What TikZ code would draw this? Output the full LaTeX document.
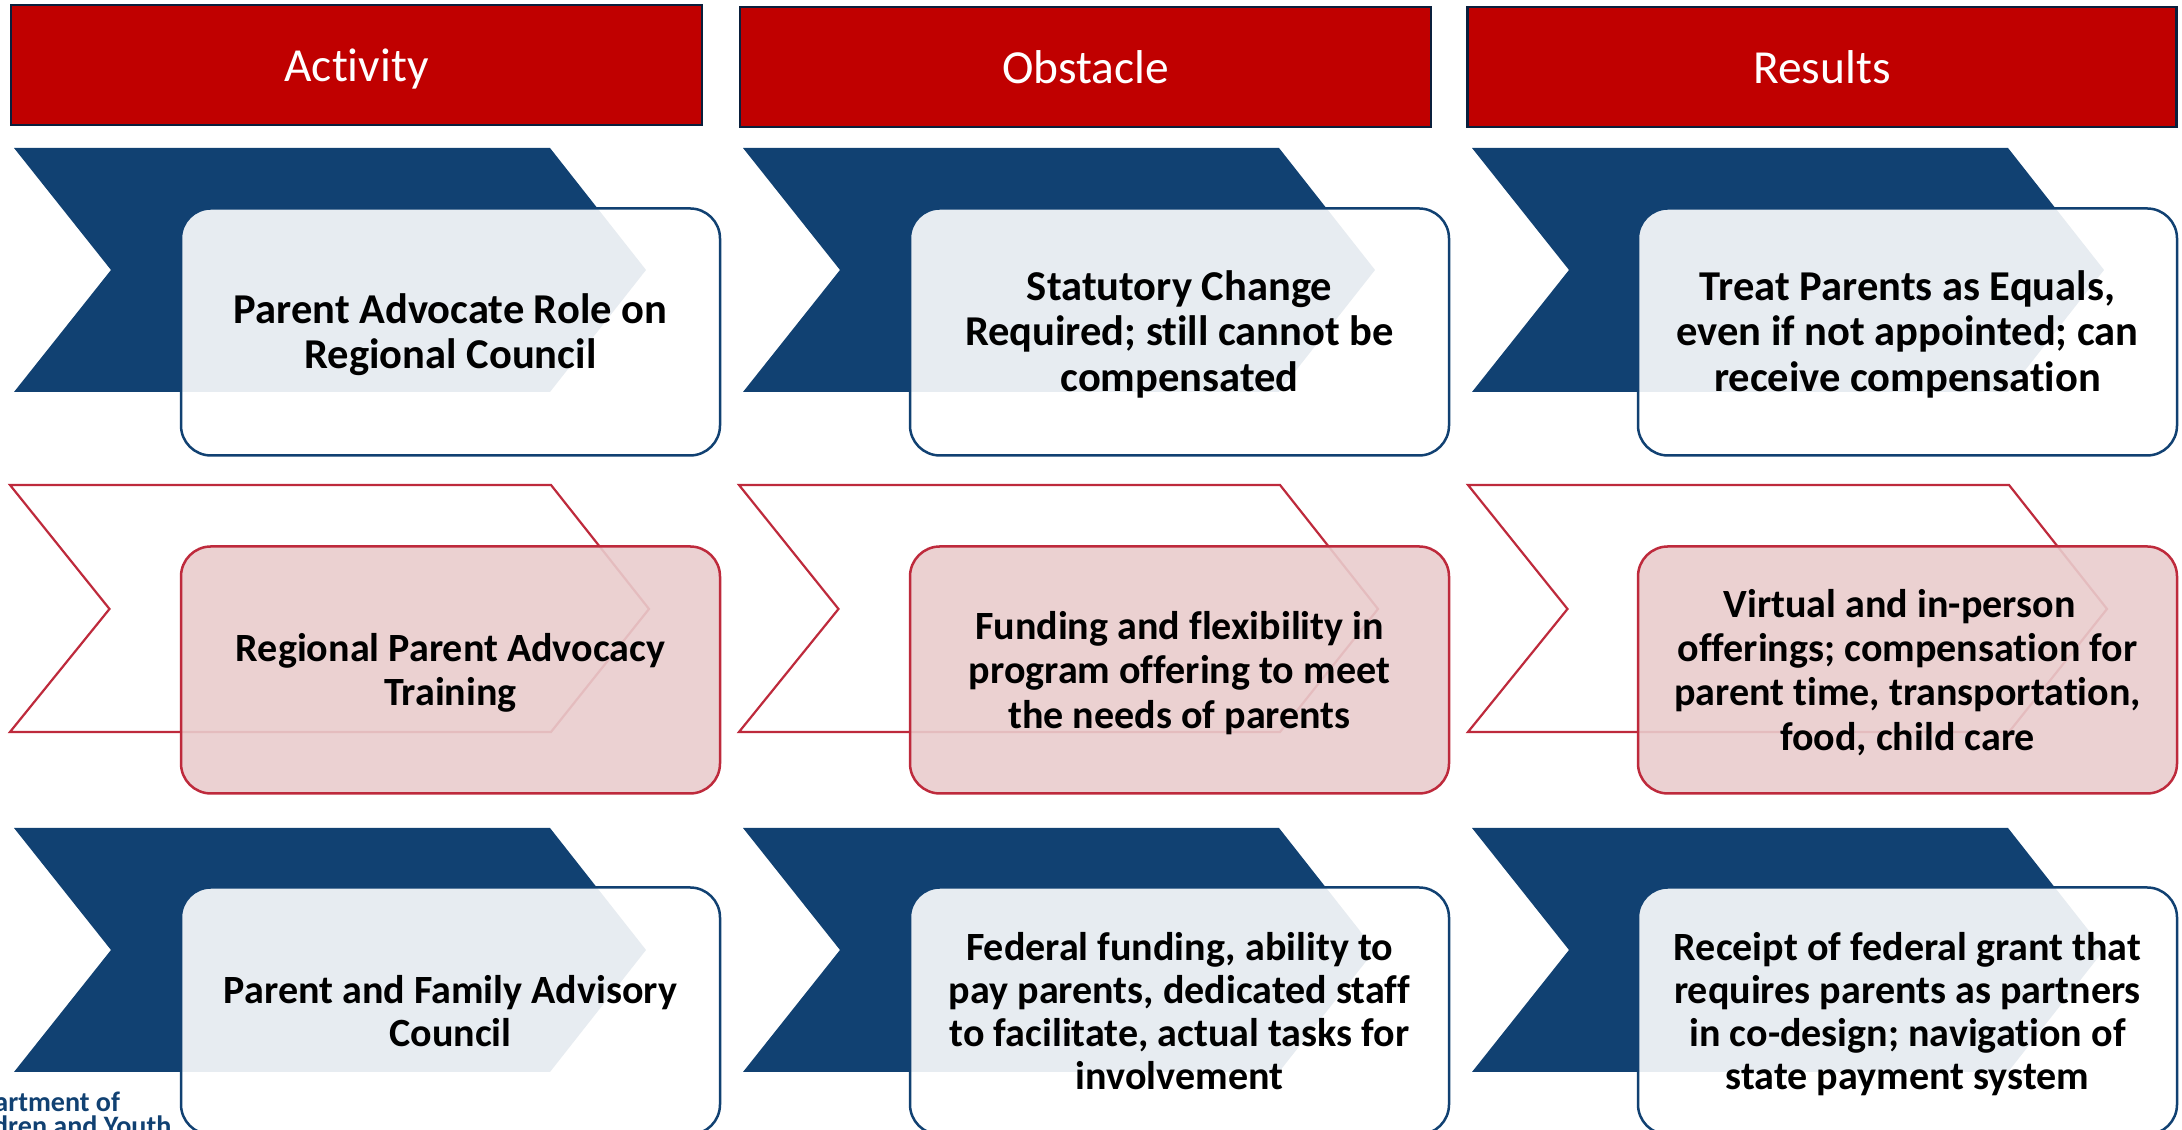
\documentclass[tikz,border=0pt]{standalone}
\usepackage{fontspec}
\setmainfont[Ligatures=CommonOff]{Carlito}
\usepackage{tikz}
\definecolor{headred}{HTML}{C00000}
\definecolor{headline}{HTML}{0A1F3C}
\definecolor{navy}{HTML}{114172}
\definecolor{rosered}{HTML}{BE2A3C}
\definecolor{rosefill}{HTML}{E9CCCD}
\tikzset{
    headbox/.style={draw=headline,line width=0.025cm,fill=headred,text=white,minimum height=1.2cm,font=\fontsize{13.5}{16}\selectfont,execute at begin node=\rule{0pt}{12pt},execute at end node=\rule[-2.5pt]{0pt}{0pt}},
    bluechev/.style={fill=navy},
    redchev/.style={draw=rosered,line width=0.022cm,fill=white},
    cardbox/.style={rounded corners=0.3cm,text width=5.39cm,minimum height=2.47cm,align=flush center,inner sep=0pt,line width=0.025cm,execute at begin node=\rule{0pt}{10.4pt},execute at end node=\rule[-2.5pt]{0pt}{0pt}},
    bluebox/.style={cardbox,draw=navy,fill=white,fill opacity=0.9,text opacity=1},
    redbox/.style={cardbox,draw=rosered,fill=rosefill,fill opacity=0.9,text opacity=1},
    rowa/.style={font=\fontsize{12.1}{12.9}\selectfont\bfseries},
    rowb/.style={font=\fontsize{11.4}{12.6}\selectfont\bfseries},
    rowc/.style={font=\fontsize{11.4}{12.3}\selectfont\bfseries},
    logotext/.style={text=navy,font=\fontsize{8}{9}\selectfont\bfseries,anchor=base east,inner sep=0pt}
}
\begin{document}
\begin{tikzpicture}
    \useasboundingbox (0,0) rectangle (21.82,11.30);
    \node[headbox,minimum width=6.91cm] (h0) at (3.565,10.65) {Activity};
    \node[headbox,minimum width=6.91cm] (h1) at (10.855,10.63) {Obstacle};
    \node[headbox,minimum width=7.09cm] (h2) at (18.22,10.63) {Results};
    \foreach \m in {0,1,2}
    {
      \foreach \t/\b in {9.82/7.38,3.02/0.58}
      {
        \fill[bluechev,xshift=7.29*\m cm] (0.14,\t) -- (5.50,\t) -- (6.46,{(\t+\b)/2}) -- (5.50,\b) -- (0.14,\b) -- (1.11,{(\t+\b)/2}) -- cycle;
      }
      \draw[redchev,xshift=7.29*\m cm] (0.10,6.45) -- (5.51,6.45) -- (6.49,5.21) -- (5.51,3.98) -- (0.10,3.98) -- (1.095,5.21) -- cycle;
    }
    \node[logotext] (logoa) at (1.207,0.183) {artment of};
    \node[logotext] (logob) at (1.72,-0.06) {dren and Youth};
    \node[bluebox,rowa] (00) at (4.505,7.98) {Parent Advocate Role on\\Regional Council};
    \node[bluebox,rowa] (10) at (11.795,7.98) {Statutory Change\\Required; still cannot be\\compensated};
    \node[bluebox,rowa] (20) at (19.075,7.98) {Treat Parents as Equals,\\even if not appointed; can\\receive compensation};
    \node[redbox,rowb] (01) at (4.505,4.60) {Regional Parent Advocacy\\Training};
    \node[redbox,rowb] (11) at (11.795,4.60) {Funding and flexibility in\\program offering to meet\\the needs of parents};
    \node[redbox,rowb] (21) at (19.075,4.60) {Virtual and in-person\hspace{0.16cm}\mbox{}\\offerings; compensation for\\parent time, transportation,\\food, child care};
    \node[bluebox,rowc] (02) at (4.505,1.19) {Parent and Family Advisory\\Council};
    \node[bluebox,rowc] (12) at (11.795,1.19) {Federal funding, ability to\\pay parents, dedicated staff\\to facilitate, actual tasks for\\involvement};
    \node[bluebox,rowc] (22) at (19.075,1.19) {Receipt of federal grant that\\requires parents as partners\\in co-design; navigation of\\state payment system};
\end{tikzpicture}
\end{document}
